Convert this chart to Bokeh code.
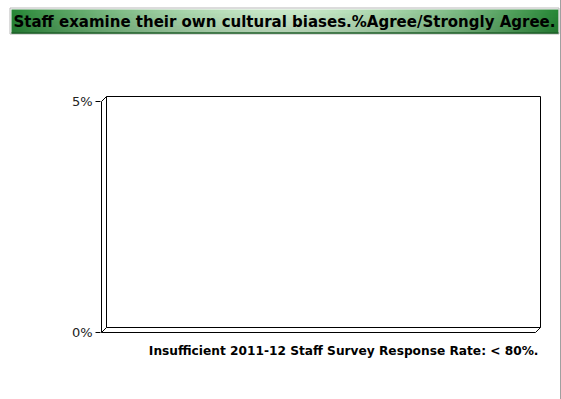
import numpy as np
from bokeh.plotting import figure
from bokeh.models import Range1d, FixedTicker, Title
from bokeh.core.properties import value
from bokeh.embed import file_html
from bokeh.resources import INLINE

# ---- chart content ----
title_text = "Staff examine their own cultural biases.%Agree/Strongly Agree."
note_text = "Insufficient 2011-12 Staff Survey Response Rate: < 80%."
y_ticks = [0.0, 0.05]
y_tick_labels = {0.0: "0%", 0.05: "5%"}
y_max = 0.05

FONT = "DejaVu Sans"
W = 561
EDGE = {"border-right": "1px solid #a0a0a0"}

# ---- title bar (separate small figure) ----
TH = 38
tf = figure(width=W, height=TH, output_backend="svg", toolbar_location=None,
            x_range=Range1d(0, W), y_range=Range1d(TH, 0),
            min_border=0, min_border_left=0, min_border_right=0,
            min_border_top=0, min_border_bottom=0, styles=EDGE)
tf.axis.visible = False
tf.grid.visible = False
tf.outline_line_color = None
tf.background_fill_color = "white"
tf.border_fill_color = "white"

bx0, bx1, by0, by1 = 11, 558, 9, 33
n = 256
xs = np.linspace(0, 1, n)
t = np.abs(xs - 0.5) / 0.5
t = t ** 1.6
light = np.array([200, 232, 200])
dark = np.array([40, 135, 55])
rows = 6
img = np.zeros((rows, n), dtype=np.uint32)
view = img.view(dtype=np.uint8).reshape((rows, n, 4))
for r in range(rows):
    shade = 1.0 - 0.10 * r / (rows - 1)
    col = (light + (dark - light) * t[:, None]) * shade
    view[r, :, 0] = col[:, 0]
    view[r, :, 1] = col[:, 1]
    view[r, :, 2] = col[:, 2]
    view[r, :, 3] = 255
tf.image_rgba(image=[img], x=bx0, y=by0, dw=bx1 - bx0, dh=by1 - by0)
tf.quad(left=[bx0 - 1.5], right=[bx1 + 0.5], top=[by0 - 1.5], bottom=[by1 + 0.5],
        fill_color=None, line_color="#b8b8b8", line_width=1)
tf.segment(x0=[bx0], y0=[by1 - 0.5], x1=[bx1], y1=[by1 - 0.5],
           line_color="#1f5f2a", line_width=1.5)
tf.text(x=[bx0 + 2], y=[21.5], text=[title_text],
        text_font=value(FONT), text_font_style="bold", text_font_size="15px",
        text_color="#000000", text_align="left", text_baseline="middle")

# ---- main chart ----
MH = 361
PX = 441   # frame width in px (incl. 1px pad each side)
PY = 238   # frame height in px
LEFT = 100
TOP = 57
unit_x = 1.0 / 439
unit_y = y_max / 231
dx = 5 * unit_x
dy = 5 * unit_y

p = figure(width=W, height=MH, output_backend="svg", toolbar_location=None,
           x_range=Range1d(-unit_x, 1 + unit_x),
           y_range=Range1d(-unit_y, y_max + 6 * unit_y),
           min_border_left=LEFT, min_border_right=W - LEFT - PX,
           min_border_top=TOP, min_border_bottom=MH - TOP - PY, styles=EDGE)
p.grid.visible = False
p.outline_line_color = None
p.background_fill_color = "white"
p.border_fill_color = "white"
p.xaxis.visible = False

ya = p.yaxis[0]
ya.ticker = FixedTicker(ticks=y_ticks)
ya.major_label_overrides = y_tick_labels
ya.axis_line_color = None
ya.minor_tick_line_color = None
ya.major_tick_in = 0
ya.major_tick_out = 5
ya.major_tick_line_color = "#000000"
ya.major_label_standoff = 3
ya.major_label_text_font = FONT
ya.major_label_text_font_size = "13px"
ya.major_label_text_color = "#222222"

# back wall
p.quad(left=[dx], right=[1], bottom=[dy], top=[y_max + dy],
       fill_color=None, line_color="#000000", line_width=1)
# front edges of 3D frame
p.segment(x0=[0, 0, 0, 1 - dx, 0],
          y0=[0, y_max, 0, 0, 0],
          x1=[0, dx, 1 - dx, 1, dx],
          y1=[y_max, y_max + dy, 0, dy, dy],
          line_color="#000000", line_width=1)

note = Title(text=note_text, align="right", text_font=FONT,
             text_font_style="bold", text_font_size="12.2px",
             text_color="#000000", standoff=16, offset=3)
p.add_layout(note, "below")

open("out.html", "w").write(file_html([tf, p], INLINE))
